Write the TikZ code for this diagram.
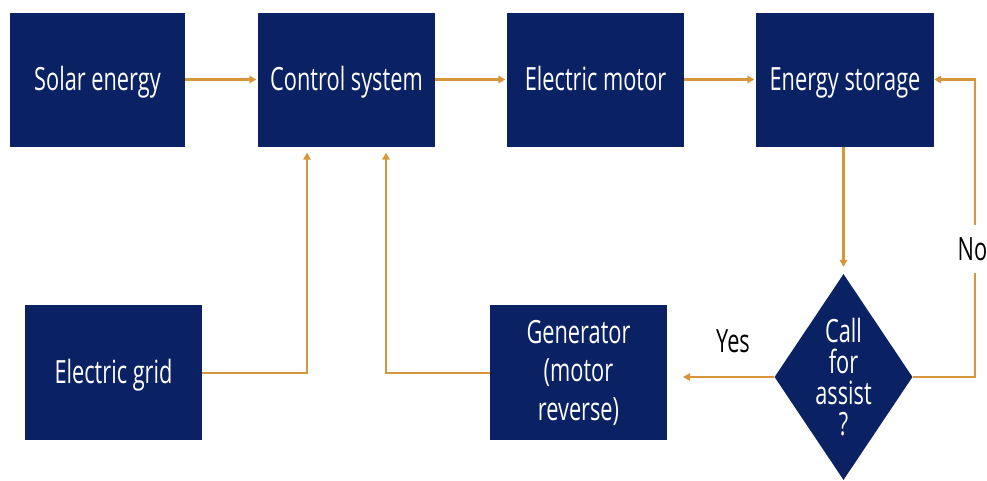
\documentclass[tikz,border=0pt]{standalone}
\usepackage{fontspec}
\setmainfont[FakeStretch=0.68]{Open Sans}
\usetikzlibrary{arrows.meta,shapes.geometric}
\definecolor{navy}{RGB}{10,34,99}
\definecolor{amber}{RGB}{214,150,60}
\tikzset{
  blk/.style={rectangle, fill=navy, text=white, inner sep=0pt,
    minimum width=177pt, minimum height=134pt, align=center,
    font=\fontsize{32}{38.5}\selectfont},
  oneline/.style={text height=22.8pt, text depth=0pt},
  dec/.style={diamond, fill=navy, inner sep=0pt, shape aspect=0.67,
    minimum width=138pt, minimum height=206pt},
  dectext/.style={text=white, align=center, inner sep=0pt,
    font=\fontsize{32}{31}\selectfont},
  conn/.style={draw=amber, line width=2.3pt,
    -{Triangle[length=7pt,width=7.5pt]}, shorten >=1.5pt},
  lbl/.style={font=\fontsize{32}{38}\selectfont, inner sep=0pt,
    text height=22.8pt, text depth=0pt},
}
\begin{document}
\begin{tikzpicture}[x=1pt,y=-1pt]
\useasboundingbox (0,0) rectangle (987,480);
\node[blk,oneline,minimum width=175pt] (solar) at (97.5,79.5) {Solar energy};
\node[blk,oneline] (control) at (346.5,79.5) {Control system};
\node[blk,oneline] (motor) at (595.5,79.5) {Electric motor};
\node[blk,oneline,minimum width=178pt] (storage) at (845,79.5) {Energy storage};
\node[blk,oneline,minimum height=135pt] (grid) at (113.5,372.5) {Electric grid};
\node[blk,minimum height=135pt] (gen) at (578.5,372.5) {Generator\\(motor\\reverse)};
\node[dec] (dec) at (843.5,377) {};
\node[dectext] (dq) at (dec.center) {Call\\for\\assist\\?};
\coordinate (yesend) at (683,377);
\coordinate (noc) at (975,377);
\coordinate (gridc) at (307,373);
\coordinate (genc) at (386,373);
\draw[conn] (solar) -- (control);
\draw[conn] (control) -- (motor);
\draw[conn] (motor) -- (storage);
\draw[conn, shorten >=7pt] (storage.south -| dec.north) -- (dec.north);
\draw[conn, shorten >=0pt] (dec.east) -- (noc) -- (noc |- storage.east)
  node[pos=0.43, lbl, fill=white, inner ysep=13pt, inner xsep=1pt, xshift=-2.5pt] (no) {No}
  -- (storage.east);
\draw[conn, shorten >=0pt] (dec.west) -- (yesend);
\node[lbl] (yes) at (733,341) {Yes};
\draw[conn, shorten >=6pt] (grid.east |- gridc) -- (gridc) -- (gridc |- control.south);
\draw[conn, shorten >=6pt] (gen.west |- genc) -- (genc) -- (genc |- control.south);
\end{tikzpicture}
\end{document}
